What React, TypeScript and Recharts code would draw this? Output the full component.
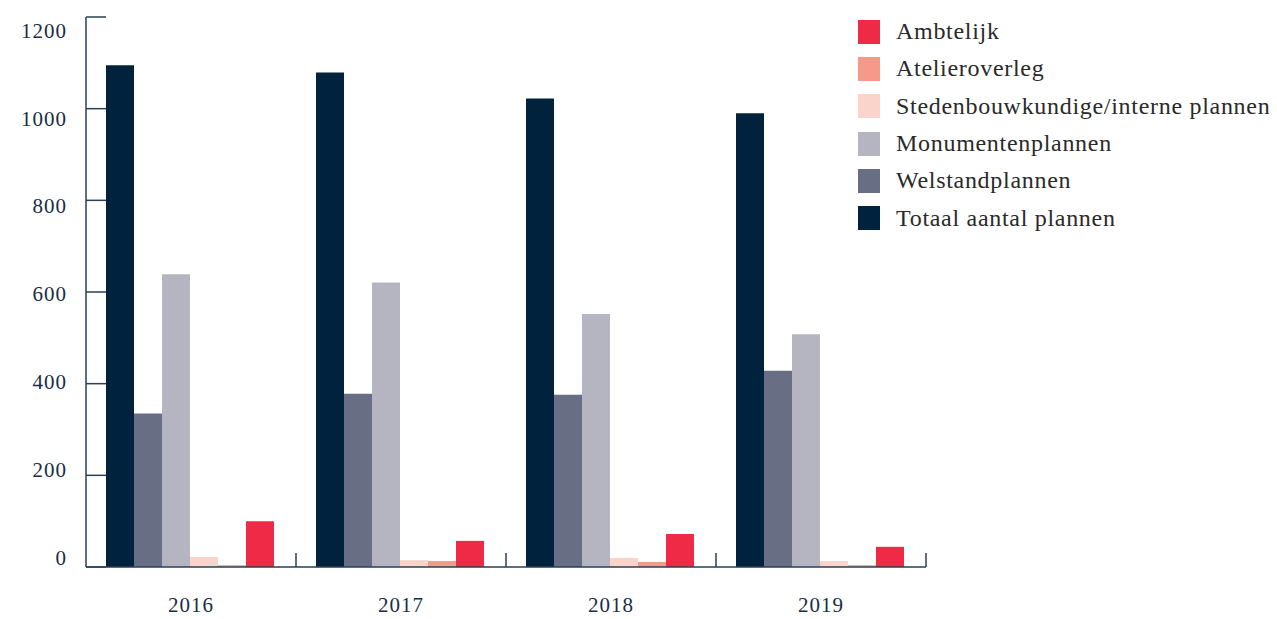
import { Bar, BarChart, Legend, XAxis, YAxis } from 'recharts';

const years = ['2016', '2017', '2018', '2019'];
const totaal = [1095, 1079, 1022, 990];
const welstand = [335, 378, 376, 428];
const monumenten = [639, 621, 552, 508];
const stedenbouw = [22, 15, 20, 13];
const atelier = [4, 13, 11, 4];
const ambtelijk = [100, 57, 72, 44];
const yTicks = [0, 200, 400, 600, 800, 1000, 1200];
const legendOrder = [
  'Ambtelijk',
  'Atelieroverleg',
  'Stedenbouwkundige/interne plannen',
  'Monumentenplannen',
  'Welstandplannen',
  'Totaal aantal plannen',
];

const data = years.map((year, i) => ({
  year,
  totaal: totaal[i],
  welstand: welstand[i],
  monumenten: monumenten[i],
  stedenbouw: stedenbouw[i],
  atelier: atelier[i],
  ambtelijk: ambtelijk[i],
}));

const axisColor = '#2b3f56';
const textColor = '#1b2d45';
const font = '"Liberation Serif", serif';

function YTick(props: any) {
  const { x, y, payload } = props;
  const shift = -7 + (23 * payload.value) / 1200;
  return (
    <g>
      <line x1={x} x2={x + 20} y1={y} y2={y} stroke={axisColor} strokeWidth={1.5} />
      <text x={x - 19} y={y + shift} textAnchor="end" dominantBaseline="middle" fill={textColor} fontSize={21} letterSpacing={1} fontFamily={font}>
        {payload.value}
      </text>
    </g>
  );
}

function XTick(props: any) {
  const { x, y, payload } = props;
  const half = 105;
  return (
    <g>
      <line x1={x + half} x2={x + half} y1={y - 14} y2={y} stroke={axisColor} strokeWidth={1.5} />
      <text x={x} y={y + 40} textAnchor="middle" dominantBaseline="middle" fill={textColor} fontSize={21} letterSpacing={1} fontFamily={font}>
        {payload.value}
      </text>
    </g>
  );
}

function LegendContent(props: any) {
  const items = [...(props.payload || [])].sort(
    (a: any, b: any) => legendOrder.indexOf(a.value) - legendOrder.indexOf(b.value),
  );
  return (
    <div style={{ fontFamily: font }}>
      {items.map((item: any) => (
        <div key={item.value} style={{ display: 'flex', alignItems: 'center', height: 37.3 }}>
          <span style={{ width: 22, height: 24, background: item.color, display: 'inline-block', marginRight: 16 }} />
          <span style={{ fontSize: 24, letterSpacing: 0.7, color: '#2a2a2a', whiteSpace: 'nowrap' }}>{item.value}</span>
        </div>
      ))}
    </div>
  );
}

export default function App() {
  return (
    <BarChart width={1261} height={611} data={data} margin={{ top: 9, right: 343, bottom: 0, left: 0 }} barCategoryGap={20} barGap={0}>
      <XAxis dataKey="year" height={52} axisLine={{ stroke: axisColor, strokeWidth: 1.5 }} tickLine={false} tickSize={0} tickMargin={0} tick={<XTick />} interval={0} />
      <YAxis width={78} domain={[0, 1200]} ticks={yTicks} axisLine={{ stroke: axisColor, strokeWidth: 1.5 }} tickLine={false} tickSize={0} tickMargin={0} tick={<YTick />} interval={0} />
      <Legend layout="vertical" align="center" verticalAlign="middle" content={<LegendContent />} wrapperStyle={{ left: 850, top: 5, width: 420 }} />
      <Bar dataKey="totaal" name="Totaal aantal plannen" fill="#01223d" isAnimationActive={false} />
      <Bar dataKey="welstand" name="Welstandplannen" fill="#686e83" isAnimationActive={false} />
      <Bar dataKey="monumenten" name="Monumentenplannen" fill="#b5b5c2" isAnimationActive={false} />
      <Bar dataKey="stedenbouw" name="Stedenbouwkundige/interne plannen" fill="#fad4cb" isAnimationActive={false} />
      <Bar dataKey="atelier" name="Atelieroverleg" fill="#f39a8b" isAnimationActive={false} />
      <Bar dataKey="ambtelijk" name="Ambtelijk" fill="#ee2a47" isAnimationActive={false} />
    </BarChart>
  );
}
